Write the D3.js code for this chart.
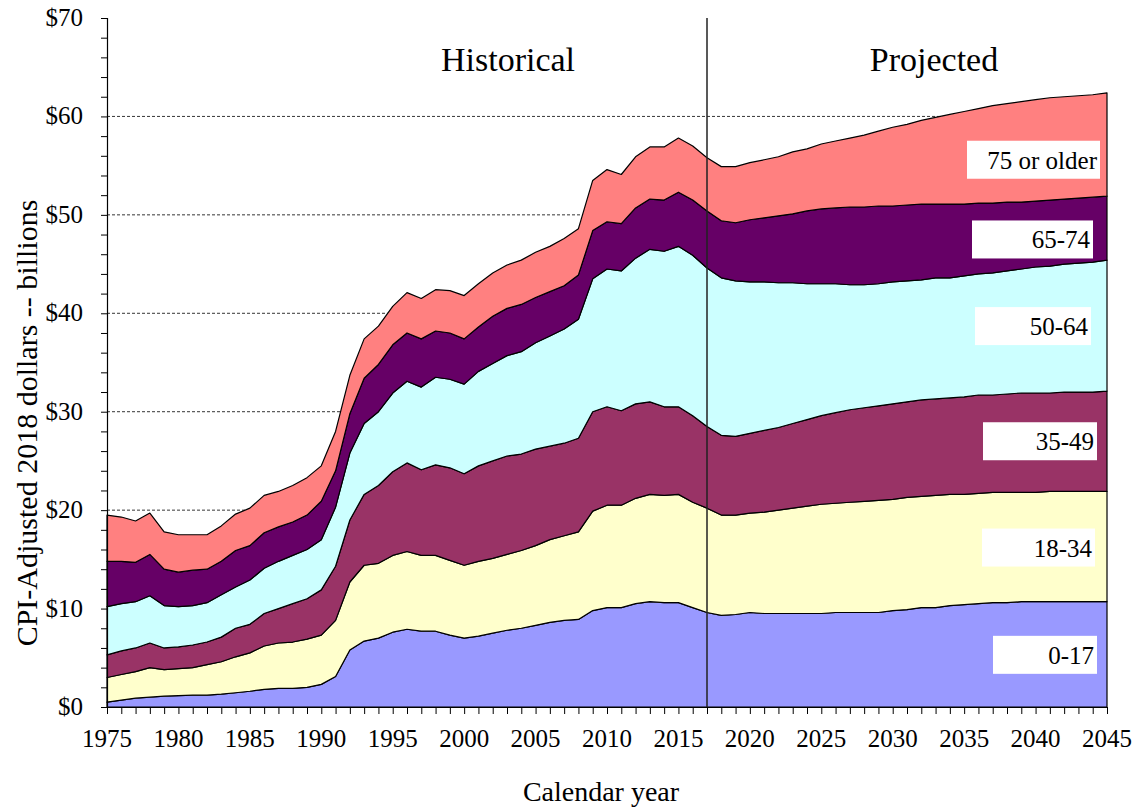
<!DOCTYPE html>
<html>
<head>
<meta charset="utf-8">
<script src="https://cdn.jsdelivr.net/npm/d3@7"></script>
<style>
  body { margin: 0; background: #fff; }
  svg { display: block; font-family: "Liberation Serif", "Times New Roman", serif; }
</style>
</head>
<body>
<div id="chart"></div>
<script>
// calendar years shown, 1975..2045
const years = d3.range(1975, 2046);
const ageGroups = ["0-17", "18-34", "35-49", "50-64", "65-74", "75 or older"];
const groupColors = ["#9999ff", "#ffffcc", "#993366", "#ccffff", "#660066", "#ff8080"];

// values in billions (CPI-adjusted 2018 dollars), one per year
const age0to17 = [0.5,0.7,0.9,1.0,1.1,1.15,1.2,1.2,1.3,1.45,1.6,1.8,1.9,1.9,2.0,2.3,3.1,5.8,6.7,7.0,
  7.6,7.9,7.7,7.7,7.3,7.0,7.2,7.5,7.8,8.0,8.3,8.6,8.8,8.9,9.8,10.1,10.1,10.5,10.7,10.6,
  10.6,10.1,9.6,9.3,9.4,9.6,9.5,9.5,9.5,9.5,9.5,9.6,9.6,9.6,9.6,9.8,9.9,10.1,10.1,10.3,
  10.4,10.5,10.6,10.6,10.7,10.7,10.7,10.7,10.7,10.7,10.7];
const age18to34 = [2.5,2.6,2.7,3.0,2.7,2.75,2.8,3.1,3.3,3.65,3.9,4.4,4.6,4.7,4.9,5.0,5.7,6.9,7.7,7.6,
  7.8,7.9,7.7,7.7,7.6,7.4,7.6,7.6,7.7,7.9,8.1,8.4,8.6,8.9,10.1,10.4,10.4,10.7,10.9,10.9,
  11.0,10.7,10.6,10.2,10.1,10.1,10.3,10.5,10.7,10.9,11.1,11.1,11.2,11.3,11.4,11.3,11.4,11.3,11.4,11.3,
  11.2,11.2,11.2,11.2,11.1,11.1,11.2,11.2,11.2,11.2,11.2];
const age35to49 = [2.3,2.4,2.4,2.5,2.2,2.2,2.3,2.3,2.5,2.9,2.9,3.3,3.5,3.9,4.1,4.6,5.5,6.3,7.2,7.9,
  8.5,9.0,8.7,9.2,9.4,9.3,9.7,9.9,10.0,9.8,9.8,9.5,9.4,9.5,10.1,10.0,9.6,9.6,9.4,9.0,
  8.9,8.8,8.3,8.1,8.0,8.1,8.3,8.4,8.6,8.8,9.0,9.2,9.4,9.5,9.6,9.7,9.7,9.8,9.8,9.8,
  9.9,10.0,9.9,10.0,10.1,10.1,10.0,10.1,10.1,10.1,10.2];
const age50to64 = [4.9,4.8,4.7,4.8,4.3,4.1,4.0,4.0,4.3,4.2,4.5,4.6,4.8,4.9,5.0,5.1,6.0,6.8,7.2,7.5,
  8.0,8.3,8.4,8.9,9.0,9.1,9.6,9.9,10.2,10.4,10.8,11.2,11.6,12.1,13.5,14.0,14.2,14.8,15.5,15.8,
  16.3,16.3,16.1,16.0,15.8,15.4,15.1,14.7,14.3,13.8,13.4,13.1,12.7,12.5,12.4,12.4,12.3,12.2,12.3,12.2,
  12.3,12.3,12.4,12.5,12.6,12.8,12.9,13.0,13.1,13.2,13.3];
const age65to74 = [4.6,4.3,4.0,4.2,3.7,3.5,3.6,3.4,3.4,3.7,3.5,3.6,3.5,3.4,3.5,3.9,3.7,4.0,4.6,4.8,
  4.9,4.9,4.9,4.7,4.7,4.6,4.5,4.8,4.8,4.8,4.6,4.5,4.4,4.5,4.9,4.8,4.8,5.1,5.1,5.2,
  5.5,5.6,5.8,5.8,5.9,6.3,6.5,6.8,7.0,7.4,7.6,7.7,7.9,7.9,7.9,7.7,7.7,7.7,7.5,7.5,
  7.3,7.2,7.1,7.0,6.8,6.7,6.7,6.6,6.6,6.6,6.5];
const age75plus = [4.7,4.5,4.2,4.2,3.8,3.8,3.6,3.5,3.6,3.7,3.8,3.8,3.6,3.7,3.8,3.6,4.0,3.9,4.0,3.9,
  3.9,4.1,4.1,4.2,4.3,4.4,4.4,4.4,4.4,4.5,4.6,4.6,4.8,4.7,5.1,5.3,5.0,5.2,5.3,5.4,
  5.5,5.5,5.4,5.5,5.7,5.8,5.9,6.0,6.3,6.3,6.6,6.8,7.0,7.3,7.6,8.0,8.2,8.5,8.8,9.1,
  9.4,9.6,9.9,10.0,10.2,10.3,10.4,10.4,10.4,10.4,10.5];

const xTickLabels = [1975,1980,1985,1990,1995,2000,2005,2010,2015,2020,2025,2030,2035,2040,2045];
const yTickValues = [0,10,20,30,40,50,60,70];
const gridValues = [10,20,30,40,50,60];
const splitYear = 2017;

// label boxes on the right: [left px, right px, centre value]
const labelBoxes = [
  {text: "0-17",        x0: 993, x1: 1097, yv: 5.3},
  {text: "18-34",       x0: 982, x1: 1095, yv: 16.2},
  {text: "35-49",       x0: 983, x1: 1097, yv: 27.0},
  {text: "50-64",       x0: 975, x1: 1091, yv: 38.7},
  {text: "65-74",       x0: 972, x1: 1093, yv: 47.5},
  {text: "75 or older", x0: 967, x1: 1100, yv: 55.6}
];

const width = 1141, height = 812;
const series = [age0to17, age18to34, age35to49, age50to64, age65to74, age75plus];

let table = years.map(function(yr, i){
  let row = {year: yr};
  ageGroups.forEach(function(g, k){ row[g] = series[k][i]; });
  return row;
});

let svg = d3.select("#chart").append("svg")
  .attr("width", width)
  .attr("height", height);

let xScale = d3.scaleLinear().domain([1975, 2045]).range([107, 1107]);
let yScale = d3.scaleLinear().domain([0, 70]).range([707, 18]);

// gridlines
svg.append("g").selectAll("line")
  .data(gridValues)
  .enter().append("line")
  .attr("x1", xScale(1975)).attr("x2", xScale(2045))
  .attr("y1", d => yScale(d)).attr("y2", d => yScale(d))
  .attr("stroke", "#000")
  .attr("stroke-width", 0.8)
  .attr("stroke-dasharray", "3,2");

// stacked areas
let stacked = d3.stack().keys(ageGroups)(table);
let area = d3.area()
  .x(d => xScale(d.data.year))
  .y0(d => yScale(d[0]))
  .y1(d => yScale(d[1]));

svg.append("g").selectAll("path")
  .data(stacked)
  .enter().append("path")
  .attr("d", area)
  .attr("fill", (d, i) => groupColors[i])
  .attr("stroke", "#000")
  .attr("stroke-width", 1.2)
  .attr("stroke-linejoin", "round");

// historical / projected divider
svg.append("line")
  .attr("x1", xScale(splitYear)).attr("x2", xScale(splitYear))
  .attr("y1", yScale(70)).attr("y2", yScale(0))
  .attr("stroke", "#222")
  .attr("stroke-width", 1.5);

// y axis
let yAxis = svg.append("g").attr("transform", "translate(" + xScale(1975) + ",0)");
yAxis.call(d3.axisLeft(yScale).tickValues(d3.range(0, 71, 2)).tickSize(6).tickFormat(""));
yAxis.attr("font-family", null).attr("font-size", null);
yAxis.select(".domain").attr("stroke", "#000").attr("stroke-width", 1.2);
yAxis.selectAll(".tick line").attr("stroke", "#000");
yAxis.selectAll(".ylab")
  .data(yTickValues)
  .enter().append("text")
  .attr("class", "ylab")
  .attr("x", -24)
  .attr("y", d => yScale(d) + 8)
  .attr("text-anchor", "end")
  .attr("font-size", "25px")
  .attr("fill", "#000")
  .text(d => "$" + d);

// x axis
let xAxis = svg.append("g").attr("transform", "translate(0," + yScale(0) + ")");
xAxis.call(d3.axisBottom(xScale).tickValues(years).tickSize(7).tickSizeOuter(0).tickFormat(""));
xAxis.attr("font-family", null).attr("font-size", null);
xAxis.select(".domain").attr("stroke", "#000").attr("stroke-width", 1.2);
xAxis.selectAll(".tick line").attr("stroke", "#000");
xAxis.selectAll(".xlab")
  .data(xTickLabels)
  .enter().append("text")
  .attr("class", "xlab")
  .attr("x", d => xScale(d))
  .attr("y", 40)
  .attr("text-anchor", "middle")
  .attr("font-size", "25px")
  .attr("fill", "#000")
  .text(d => d);

// axis titles
svg.append("text")
  .attr("x", 601)
  .attr("y", 801)
  .attr("text-anchor", "middle")
  .attr("font-size", "28px")
  .text("Calendar year");

svg.append("text")
  .attr("transform", "translate(37,423) rotate(-90)")
  .attr("text-anchor", "middle")
  .attr("font-size", "30px")
  .text("CPI-Adjusted 2018 dollars -- billions");

// period titles
svg.append("text")
  .attr("x", 508).attr("y", 71)
  .attr("text-anchor", "middle")
  .attr("font-size", "34px")
  .text("Historical");
svg.append("text")
  .attr("x", 934).attr("y", 71)
  .attr("text-anchor", "middle")
  .attr("font-size", "34px")
  .text("Projected");

// series labels in white boxes
let lab = svg.append("g").selectAll("g")
  .data(labelBoxes)
  .enter().append("g");
lab.append("rect")
  .attr("x", d => d.x0)
  .attr("y", d => yScale(d.yv) - 19)
  .attr("width", d => d.x1 - d.x0)
  .attr("height", 38)
  .attr("fill", "#fff");
lab.append("text")
  .attr("x", d => d.x1 - 3)
  .attr("y", d => yScale(d.yv) + 9)
  .attr("text-anchor", "end")
  .attr("font-size", "25px")
  .text(d => d.text);
</script>
</body>
</html>
